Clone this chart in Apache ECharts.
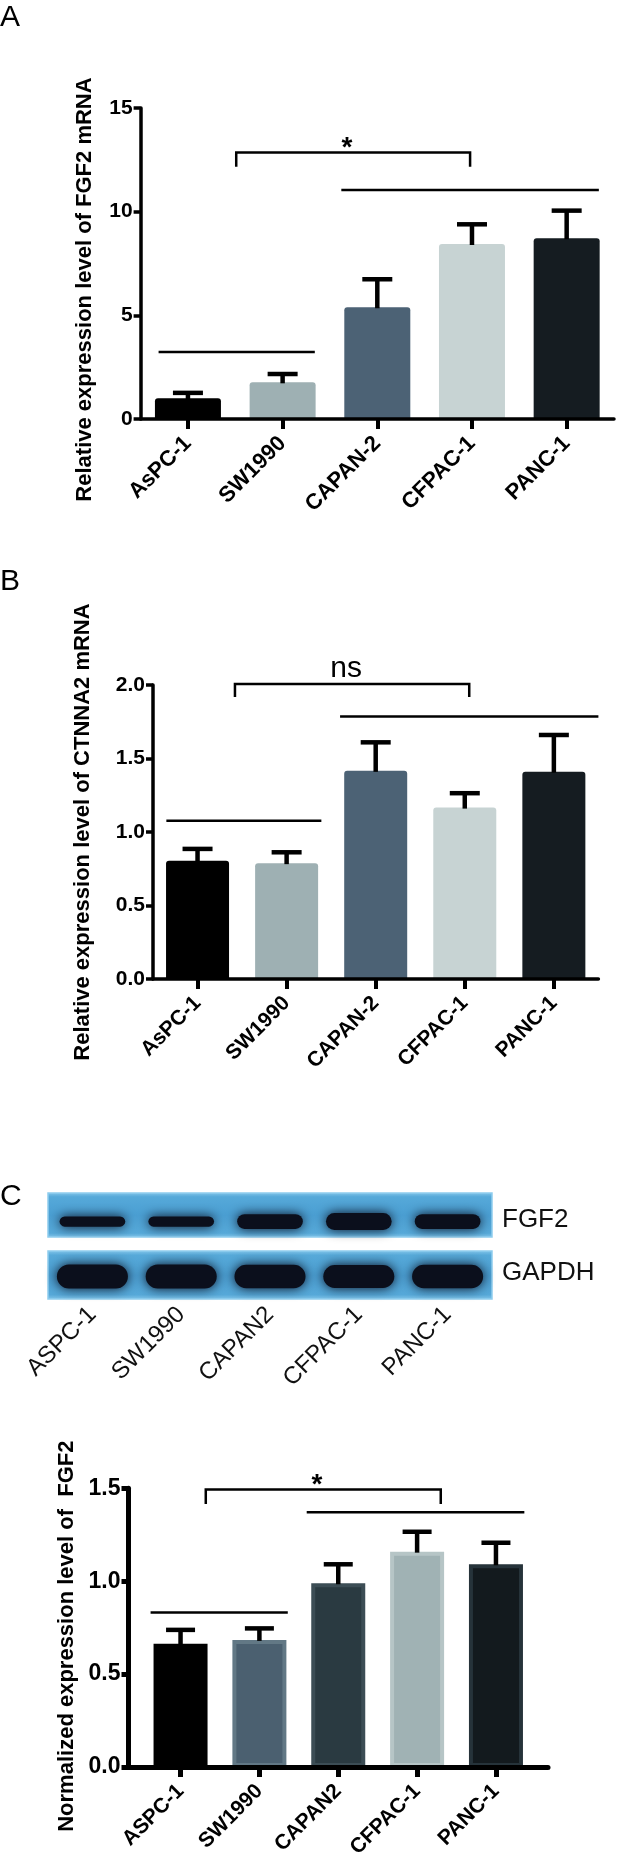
<!DOCTYPE html>
<html><head><meta charset="utf-8">
<script src="https://cdn.jsdelivr.net/npm/echarts@6/dist/echarts.min.js"></script>
<style>html,body{margin:0;padding:0;background:#fff}#c{width:629px;height:1864px}</style>
</head><body><div id="c"></div>
<script>
// ---------------- data ----------------
const catsMrna = ['AsPC-1', 'SW1990', 'CAPAN-2', 'CFPAC-1', 'PANC-1'];
const catsProtein = ['ASPC-1', 'SW1990', 'CAPAN2', 'CFPAC-1', 'PANC-1'];
const blotRows = ['GAPDH', 'FGF2'];

const fgf2Mrna = [1.0, 1.77, 5.39, 8.44, 8.72];
const fgf2MrnaErr = [0.26, 0.40, 1.35, 0.95, 1.33];
const ctnna2Mrna = [0.805, 0.788, 1.416, 1.166, 1.41];
const ctnna2MrnaErr = [0.08, 0.074, 0.194, 0.098, 0.25];
const fgf2Protein = [0.663, 0.684, 0.989, 1.159, 1.091];
const fgf2ProteinErr = [0.075, 0.062, 0.102, 0.107, 0.116];

const fgf2BandIntensity = [0.55, 0.55, 0.85, 1.0, 0.85];
const gapdhBandIntensity = [1.0, 1.0, 0.97, 0.95, 0.97];

const ticksA = [0, 5, 10, 15];
const ticksB = [0, 0.5, 1.0, 1.5, 2.0];
const ticksC = [0, 0.5, 1.0, 1.5];

// significance annotations in data coordinates
const bracketA = [0.51, 2.98, 12.85, 12.17];
const starA = [1.68, 13.34];
const linesA = [[-0.31, 1.34, 3.23], [1.62, 4.34, 11.05]];
const bracketB = [0.42, 3.05, 2.006, 1.918];
const nsB = [1.667, 2.09];
const linesB = [[-0.35, 1.39, 1.076], [1.6, 4.5, 1.786]];
const bracketC = [0.32, 3.30, 1.493, 1.416];
const starC = [1.73, 1.548];
const linesC = [[-0.38, 1.36, 0.832], [1.6, 4.36, 1.371]];

// ---------------- styles ----------------
const FONT = '"Liberation Sans", Arial, Helvetica, sans-serif';
const colorsAB = ['#000000', '#9eb0b3', '#4c6275', '#c7d3d3', '#151c21'];
const colorsC = ['#000000', '#4b6070', '#2a3a41', '#a0b2b4', '#131a1e'];
const bordersC = ['#000000', '#627885', '#3c4d55', '#b6c5c6', '#26333a'];

function yAxisCfg(grid, ticks, name, gap, pad, lw, fmt, labelSize) {
  return {
    type: 'value', gridIndex: grid,
    min: ticks[0], max: ticks[ticks.length - 1], interval: ticks[1] - ticks[0],
    name: name, nameLocation: 'middle', nameRotate: 90, nameGap: gap,
    nameTextStyle: { fontFamily: FONT, fontSize: 22, fontWeight: 'bold', color: '#000', padding: [0, pad, 0, 0] },
    axisLine: { show: true, onZero: false, lineStyle: { color: '#000', width: lw } },
    axisTick: { show: true, length: 7, lineStyle: { color: '#000', width: lw } },
    axisLabel: { fontFamily: FONT, fontSize: labelSize, fontWeight: 'bold', color: '#000', margin: 8, formatter: fmt },
    splitLine: { show: false }, z: 10
  };
}
function xAxisCfg(grid, cats, min, max, lw, tickW, labelSize) {
  const idx = cats.map((c, i) => i);
  return {
    type: 'value', gridIndex: grid, min: min, max: max,
    axisLine: { show: true, onZero: false, lineStyle: { color: '#000', width: lw } },
    axisTick: { show: true, customValues: idx, length: 10, lineStyle: { color: '#000', width: tickW } },
    axisLabel: { customValues: idx, rotate: 45, margin: 21, fontFamily: FONT, fontSize: labelSize, fontWeight: 'bold',
      color: '#000', formatter: v => cats[Math.round(v)] },
    splitLine: { show: false }, z: 10
  };
}
function barSeries(ax, vals, colors, width, borders, radius) {
  return {
    type: 'bar', xAxisIndex: ax, yAxisIndex: ax, barWidth: width, z: 2,
    data: vals.map((v, i) => ({ value: [i, v], itemStyle: {
      color: colors[i], borderColor: borders ? borders[i] : colors[i], borderWidth: borders ? 4 : 0,
      borderRadius: radius } }))
  };
}
function errSeries(ax, vals, errs, capHalf, lw) {
  return {
    type: 'custom', xAxisIndex: ax, yAxisIndex: ax, z: 5,
    data: vals.map((v, i) => [i, v, errs[i]]),
    renderItem(params, api) {
      const x = api.value(0), y = api.value(1), e = api.value(2);
      const p0 = api.coord([x, y]), p1 = api.coord([x, y + e]);
      return { type: 'group', children: [
        { type: 'line', shape: { x1: p0[0], y1: p0[1] + 1, x2: p1[0], y2: p1[1] }, style: { stroke: '#000', lineWidth: lw } },
        { type: 'line', shape: { x1: p1[0] - capHalf, y1: p1[1], x2: p1[0] + capHalf, y2: p1[1] }, style: { stroke: '#000', lineWidth: lw } }
      ] };
    }
  };
}
function sigSeries(ax, bracket, lines, markPos, markText, markFont, markDy, lw) {
  return {
    type: 'custom', xAxisIndex: ax, yAxisIndex: ax, z: 6, data: [[0, 0]],
    renderItem(params, api) {
      const ch = [];
      const a = api.coord([bracket[0], bracket[3]]), b = api.coord([bracket[0], bracket[2]]);
      const c = api.coord([bracket[1], bracket[2]]), d = api.coord([bracket[1], bracket[3]]);
      ch.push({ type: 'polyline', shape: { points: [a, b, c, d] }, style: { stroke: '#000', lineWidth: lw, fill: null } });
      lines.forEach(l => {
        const p = api.coord([l[0], l[2]]), q = api.coord([l[1], l[2]]);
        ch.push({ type: 'line', shape: { x1: p[0], y1: p[1], x2: q[0], y2: q[1] }, style: { stroke: '#000', lineWidth: lw } });
      });
      const m = api.coord(markPos);
      ch.push({ type: 'text', x: m[0], y: m[1] + markDy, style: { text: markText, font: markFont, fill: '#000', align: 'center', verticalAlign: 'middle' } });
      return { type: 'group', children: ch };
    }
  };
}

const stripFill = { type: 'linear', x: 0, y: 0, x2: 0, y2: 1, colorStops: [
  { offset: 0, color: '#86c7ea' }, { offset: 0.1, color: '#56a9d9' }, { offset: 0.5, color: '#4a9fd3' },
  { offset: 0.9, color: '#56a9d9' }, { offset: 1, color: '#86c7ea' } ] };

const option = {
  animation: false,
  backgroundColor: '#fff',
  title: [
    { text: 'A', left: 0, top: 3, padding: 0, textStyle: { fontFamily: FONT, fontSize: 30, fontWeight: 'normal', color: '#000' } },
    { text: 'B', left: 0, top: 567, padding: 0, textStyle: { fontFamily: FONT, fontSize: 30, fontWeight: 'normal', color: '#000' } },
    { text: 'C', left: 0, top: 1182, padding: 0, textStyle: { fontFamily: FONT, fontSize: 30, fontWeight: 'normal', color: '#000' } }
  ],
  grid: [
    { left: 140.6, top: 108, width: 473.4, height: 311 },
    { left: 153, top: 685, width: 445.4, height: 294 },
    { left: 48, top: 1193, width: 444, height: 106 },
    { left: 128.5, top: 1488.3, width: 419.5, height: 278.7 }
  ],
  xAxis: [
    xAxisCfg(0, catsMrna, -0.5, 4.5, 3.5, 4, 22),
    xAxisCfg(1, catsMrna, -0.5, 4.5, 3.5, 4, 21),
    { type: 'category', gridIndex: 2, data: catsProtein, boundaryGap: true,
      axisLine: { show: false }, axisTick: { show: false }, splitLine: { show: false },
      axisLabel: { rotate: 45, margin: 12, fontFamily: FONT, fontSize: 24, color: '#111' } },
    xAxisCfg(3, catsProtein, -0.66, 4.66, 5, 5, 21)
  ],
  yAxis: [
    yAxisCfg(0, ticksA, 'Relative expression level of FGF2 mRNA', 45, 52, 3.5, v => String(v), 21),
    yAxisCfg(1, ticksB, 'Relative expression level of CTNNA2 mRNA', 59, 0, 3.5, v => v.toFixed(1), 21),
    { type: 'category', gridIndex: 2, data: blotRows, position: 'right',
      axisLine: { show: false }, axisTick: { show: false }, splitLine: { show: false },
      axisLabel: { margin: 10, fontFamily: FONT, fontSize: 26, color: '#111', padding: [14, 0, 0, 0] } },
    yAxisCfg(3, ticksC, 'Normalized expression level of  FGF2', 50, 17, 5, v => v.toFixed(1), 23)
  ],
  series: [
    barSeries(0, fgf2Mrna, colorsAB, 66, null, [3, 3, 0, 0]),
    errSeries(0, fgf2Mrna, fgf2MrnaErr, 15, 4.5),
    sigSeries(0, bracketA, linesA, starA, '*', 'bold 28px ' + FONT, 6, 2.5),

    barSeries(1, ctnna2Mrna, colorsAB, 63, null, [3, 3, 0, 0]),
    errSeries(1, ctnna2Mrna, ctnna2MrnaErr, 15, 4.5),
    sigSeries(1, bracketB, linesB, nsB, 'ns', 'normal 30px ' + FONT, -3, 2.5),

    { type: 'custom', xAxisIndex: 2, yAxisIndex: 2, z: 1,
      data: blotRows.map((r, i) => [0, i]),
      renderItem(params, api) {
        const row = api.value(1), cs = params.coordSys;
        const c = api.coord([0, row]); const rowH = api.size([1, 1])[1];
        let top, bottom;
        if (row === 1) { top = c[1] - rowH / 2; bottom = c[1] + rowH / 2 - 9; }
        else { top = c[1] - rowH / 2 + 5; bottom = c[1] + rowH / 2; }
        return { type: 'rect', shape: { x: cs.x, y: top, width: cs.width, height: bottom - top },
          style: { fill: stripFill, stroke: '#8fcdee', lineWidth: 1.5 } };
      } },
    { type: 'custom', xAxisIndex: 2, yAxisIndex: 2, z: 2,
      data: fgf2BandIntensity.map((v, i) => [i, 1, v]).concat(gapdhBandIntensity.map((v, i) => [i, 0, v])),
      renderItem(params, api) {
        const lane = api.value(0), row = api.value(1), I = api.value(2);
        const c = api.coord([lane, row]); const laneW = api.size([1, 1])[0];
        const w = laneW * (row === 1 ? 0.74 : 0.8);
        const h = row === 1 ? 2 + 15 * I : 24 * I;
        const cy = c[1] + (row === 1 ? 2 : 4);
        return { type: 'rect', shape: { x: c[0] - w / 2, y: cy - h / 2, width: w, height: h, r: h / 2 },
          style: { fill: '#0b0f1c', shadowBlur: 12, shadowColor: 'rgba(8,12,28,1)' } };
      } },

    barSeries(3, fgf2Protein, colorsC, 54, bordersC, 0),
    errSeries(3, fgf2Protein, fgf2ProteinErr, 14.5, 4.5),
    sigSeries(3, bracketC, linesC, starC, '*', 'bold 28px ' + FONT, 6, 2.5)
  ]
};
const chart = echarts.init(document.getElementById('c'), null, { renderer: 'canvas' });
chart.setOption(option);
</script>
</body></html>
